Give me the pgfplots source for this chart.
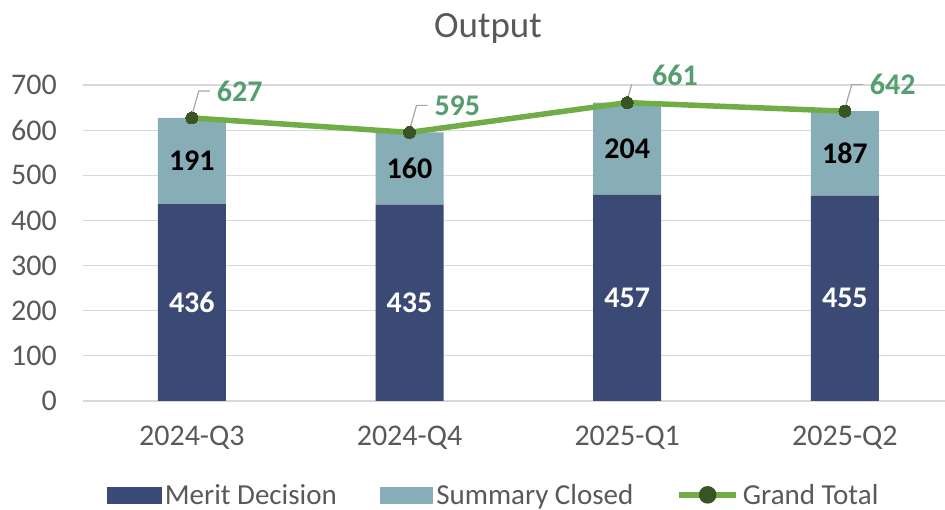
\documentclass[border=0pt]{standalone}
\usepackage{pgfplots}
\pgfplotsset{compat=1.18}
\usepackage{fontspec}
\setmainfont{Carlito}
\definecolor{merit}{HTML}{3B4A75}
\definecolor{summ}{HTML}{87AEB6}
\definecolor{lgreen}{HTML}{70AD47}
\definecolor{mk}{HTML}{375623}
\definecolor{totgreen}{RGB}{84,158,112}
\definecolor{gridgray}{HTML}{D9D9D9}
\definecolor{txtgray}{HTML}{595959}
\definecolor{leadgray}{HTML}{A6A6A6}
\pgfplotsset{
  /pgf/number format/assume math mode=true,
  base/.style={at={(83pt,109pt)}, anchor=south west, scale only axis,
    width=862pt, height=316pt, xmin=-0.5, xmax=3.46, ymin=0, ymax=700},
}
\begin{document}
\begin{tikzpicture}
\useasboundingbox (0,0) rectangle (945pt,510pt);
\node[anchor=base, text=txtgray, font=\fontsize{37}{40}\selectfont] at (488pt,472pt) {Output};

% stacked bars
\begin{axis}[base,
  ybar stacked, bar width=68pt,
  ytick={0,100,...,700},
  ymajorgrids, grid style={line width=1.2pt, gridgray},
  axis line style={draw=none}, major tick style={draw=none},
  xtick={0,1,2,3},
  xticklabels={2024-Q3,2024-Q4,2025-Q1,2025-Q2},
  tick label style={text=txtgray, font=\fontsize{30}{34}\selectfont},
  xticklabel style={anchor=base, yshift=-45pt},
  yticklabel style={anchor=east, inner sep=0pt, xshift=-26pt},
]
\addplot[fill=merit, draw=none] coordinates {(0,436) (1,435) (2,457) (3,455)};
\addplot[fill=summ, draw=none] coordinates {(0,191) (1,160) (2,204) (3,187)};
\end{axis}

% labels, line and legend
\begin{axis}[base, hide axis,
  legend columns=3,
  legend cell align=left,
  legend style={at={(0.4756,-0.297)}, anchor=center, draw=none, fill=none,
    font=\fontsize{29}{33}\selectfont, text=txtgray,
    nodes={inner sep=1pt},
    /tikz/every odd column/.append style={column sep=3pt},
    /tikz/every even column/.append style={column sep=42pt}},
]
\addlegendimage{legend image code/.code={\fill[merit] (0pt,-8pt) rectangle (54pt,8pt);}}
\addlegendentry{Merit Decision}
\addlegendimage{legend image code/.code={\fill[summ] (0pt,-8pt) rectangle (52pt,8pt);}}
\addlegendentry{Summary Closed}

% bar segment labels at segment midpoints
\addplot[draw=none, mark=none, forget plot, nodes near coords, nodes near coords align=center,
  point meta=explicit symbolic,
  nodes near coords style={font=\fontsize{30}{34}\selectfont\bfseries, text=white}]
  coordinates {(0,218)[436] (1,217.5)[435] (2,228.5)[457] (3,227.5)[455]};
\addplot[draw=none, mark=none, forget plot, nodes near coords, nodes near coords align=center,
  point meta=explicit symbolic,
  nodes near coords style={font=\fontsize{30}{34}\selectfont\bfseries, text=black}]
  coordinates {(0,531.5)[191] (1,515)[160] (2,559)[204] (3,548.5)[187]};

% leader lines
\draw[leadgray, line width=1.2pt] (axis cs:0,627) ++(1pt,6pt) -- ++(6pt,21pt) -- ++(11pt,0pt);
\draw[leadgray, line width=1.2pt] (axis cs:1,595) ++(1pt,6pt) -- ++(6pt,21pt) -- ++(11pt,0pt);
\draw[leadgray, line width=1.2pt] (axis cs:2,661) ++(1pt,6pt) -- ++(6pt,21pt) -- ++(11pt,0pt);
\draw[leadgray, line width=1.2pt] (axis cs:3,642) ++(1pt,6pt) -- ++(6pt,21pt) -- ++(11pt,0pt);

\addplot[lgreen, line width=5.5pt, mark=*, mark size=6pt,
  mark options={fill=mk, draw=mk, line width=0pt},
  legend image code/.code={\draw[lgreen, line width=5.5pt] (0pt,0pt) -- (57pt,0pt);
    \fill[mk] (28.5pt,0pt) circle (6pt);},
  nodes near coords, point meta=y,
  nodes near coords align={anchor=west},
  nodes near coords style={anchor=west, xshift=25pt, yshift=27pt, inner sep=0pt,
    font=\fontsize{30}{34}\selectfont\bfseries, text=totgreen}]
  coordinates {(0,627) (1,595) (2,661) (3,642)};
\addlegendentry{Grand Total}
\end{axis}
\end{tikzpicture}
\end{document}
